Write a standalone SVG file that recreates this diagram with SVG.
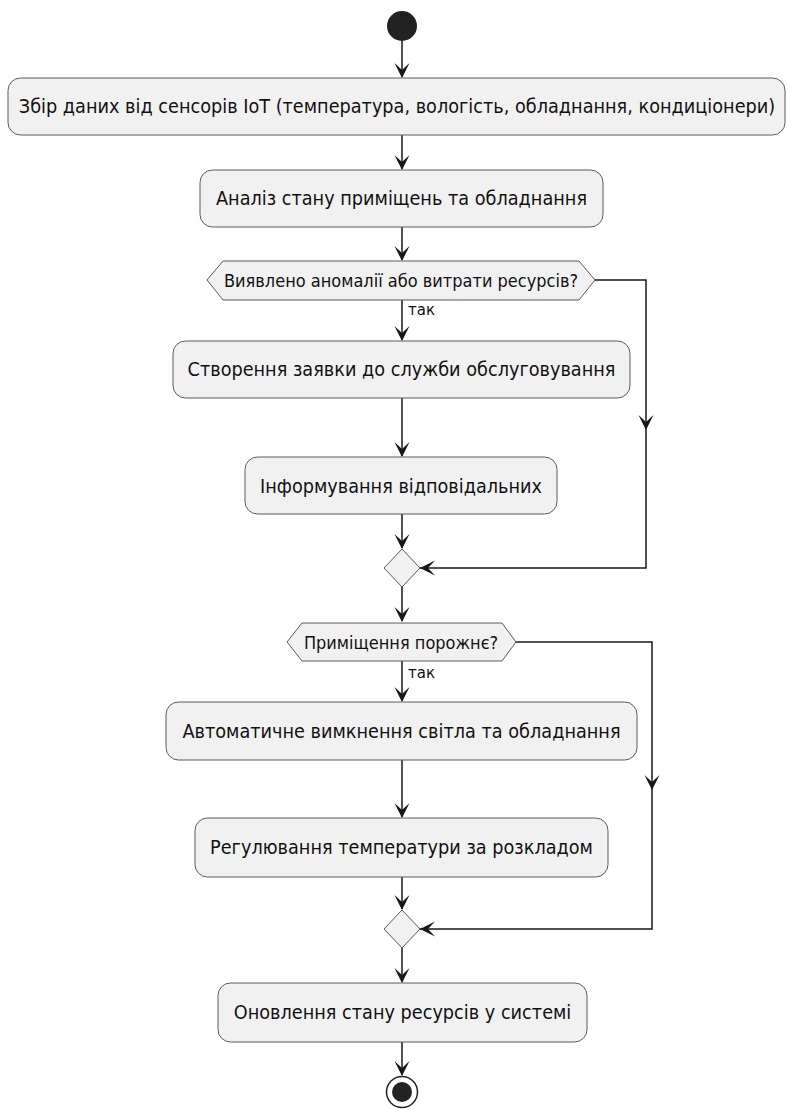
<svg xmlns="http://www.w3.org/2000/svg" width="787" height="1109" viewBox="0 0 787 1109">
<style>
.box{fill:#F1F1F1;stroke:#5a5a5a;stroke-width:1}
.t{font-family:"DejaVu Sans",sans-serif;font-size:17.7px;fill:#111;text-anchor:middle}
.td{font-family:"DejaVu Sans",sans-serif;font-size:16.2px;fill:#111;text-anchor:middle}
.lbl{font-family:"DejaVu Sans",sans-serif;font-size:15px;fill:#111}
.ln{fill:none;stroke:#181818;stroke-width:1.5}
.ah{fill:#181818;stroke:none}
</style>
<defs>
<path id="ad" d="M-7.5,-15 L0,0 L7.5,-15 L0,-8 Z"/>
</defs>
<rect width="787" height="1109" fill="#fff"/>
<g id="connectors">
<line class="ln" x1="402" y1="40" x2="402" y2="77"/><use href="#ad" class="ah" x="402" y="78"/>
<line class="ln" x1="402" y1="135" x2="402" y2="169"/><use href="#ad" class="ah" x="402" y="170"/>
<line class="ln" x1="402" y1="227" x2="402" y2="260"/><use href="#ad" class="ah" x="402" y="261"/>
<line class="ln" x1="402" y1="300" x2="402" y2="340"/><use href="#ad" class="ah" x="402" y="341"/>
<line class="ln" x1="402" y1="398" x2="402" y2="456"/><use href="#ad" class="ah" x="402" y="457"/>
<line class="ln" x1="402" y1="514" x2="402" y2="548"/><use href="#ad" class="ah" x="402" y="549"/>
<polyline class="ln" points="595,280 646,280 646,568 420,568"/>
<use href="#ad" class="ah" x="646" y="430"/>
<use href="#ad" class="ah" transform="translate(420,568) rotate(90)"/>
<line class="ln" x1="402" y1="587" x2="402" y2="621"/><use href="#ad" class="ah" x="402" y="622"/>
<line class="ln" x1="402" y1="661" x2="402" y2="701"/><use href="#ad" class="ah" x="402" y="702"/>
<line class="ln" x1="402" y1="760" x2="402" y2="817"/><use href="#ad" class="ah" x="402" y="818"/>
<line class="ln" x1="402" y1="877" x2="402" y2="909"/><use href="#ad" class="ah" x="402" y="910"/>
<polyline class="ln" points="516,642 652,642 652,929 420,929"/>
<use href="#ad" class="ah" x="652" y="790"/>
<use href="#ad" class="ah" transform="translate(420,929) rotate(90)"/>
<line class="ln" x1="402" y1="948" x2="402" y2="982"/><use href="#ad" class="ah" x="402" y="983"/>
<line class="ln" x1="402" y1="1042" x2="402" y2="1075"/><use href="#ad" class="ah" x="402" y="1076"/>
<text class="lbl" transform="translate(408,315) scale(1,1.1)">так</text>
<text class="lbl" transform="translate(408,678) scale(1,1.1)">так</text>
</g>
<g id="start"><circle cx="402" cy="26" r="15" fill="#222"/></g>
<g id="a1"><rect class="box" x="8" y="78" width="777" height="57" rx="12.5"/><text class="t" transform="translate(397,113.2) scale(1,1.1)">Збір даних від сенсорів IoT (температура, вологість, обладнання, кондиціонери)</text></g>
<g id="a2"><rect class="box" x="200" y="170" width="403" height="57" rx="12.5"/><text class="t" transform="translate(401.5,205.2) scale(1,1.1)">Аналіз стану приміщень та обладнання</text></g>
<g id="d1"><polygon class="box" points="207,280 223,261 579,261 595,280 579,300 223,300"/><text class="td" transform="translate(401,287) scale(1,1.1)">Виявлено аномалії або витрати ресурсів?</text></g>
<g id="a3"><rect class="box" x="173" y="341" width="457" height="57" rx="12.5"/><text class="t" transform="translate(401.5,376.2) scale(1,1.1)">Створення заявки до служби обслуговування</text></g>
<g id="a4"><rect class="box" x="245" y="457" width="312" height="57" rx="12.5"/><text class="t" transform="translate(401,492.7) scale(1,1.1)">Інформування відповідальних</text></g>
<g id="m1"><polygon class="box" points="402,549 420,568 402,587 384,568"/></g>
<g id="d2"><polygon class="box" points="287,642 302,623 502,623 516,642 502,661 302,661"/><text class="td" transform="translate(401,648.5) scale(1,1.1)">Приміщення порожнє?</text></g>
<g id="a5"><rect class="box" x="166" y="702" width="471" height="58" rx="12.5"/><text class="t" transform="translate(401.5,737.7) scale(1,1.1)">Автоматичне вимкнення світла та обладнання</text></g>
<g id="a6"><rect class="box" x="195" y="818" width="413" height="59" rx="12.5"/><text class="t" transform="translate(401.5,854.2) scale(1,1.1)">Регулювання температури за розкладом</text></g>
<g id="m2"><polygon class="box" points="402,910 420,929 402,948 384,929"/></g>
<g id="a7"><rect class="box" x="218" y="983" width="369" height="59" rx="12.5"/><text class="t" transform="translate(402.5,1019.2) scale(1,1.1)">Оновлення стану ресурсів у системі</text></g>
<g id="end"><circle cx="402" cy="1092" r="15.5" fill="none" stroke="#222" stroke-width="1.5"/><circle cx="402" cy="1092" r="10" fill="#222"/></g>
</svg>
